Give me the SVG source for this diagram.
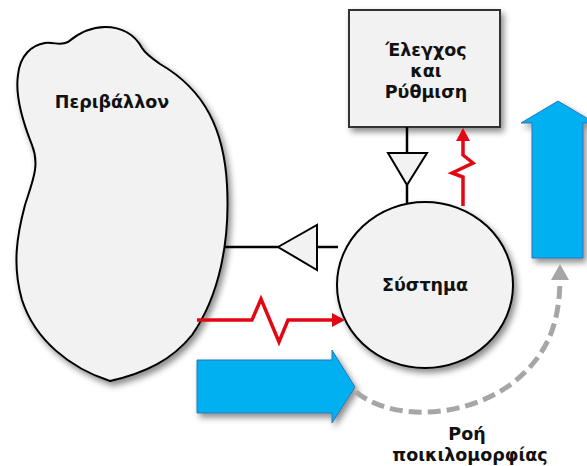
<svg xmlns="http://www.w3.org/2000/svg" width="587" height="466" viewBox="0 0 587 466">
  <defs>
    <filter id="shadow" x="-20%" y="-20%" width="140%" height="140%">
      <feDropShadow dx="3" dy="4" stdDeviation="3" flood-color="#000" flood-opacity="0.45"/>
    </filter>
    <marker id="redHead" markerUnits="userSpaceOnUse" markerWidth="14" markerHeight="14" refX="10" refY="7" orient="auto">
      <path d="M0,0 L13,7 L0,14 Z" fill="#e30613"/>
    </marker>
    <marker id="grayHead" markerUnits="userSpaceOnUse" markerWidth="18" markerHeight="18" refX="4" refY="9" orient="auto">
      <path d="M0,0 L16,9 L0,18 Z" fill="#a6a6a6"/>
    </marker>
  </defs>
  <style>
    .shape { fill: #f2f2f2; stroke: #000; stroke-width: 2; }
    .label { font-family: "DejaVu Sans", Verdana, sans-serif; font-weight: bold; font-size: 17.5px; fill: #111; text-anchor: middle; }
    .wire { fill: none; stroke: #000; stroke-width: 2.5; }
    .tri { fill: #f2f2f2; stroke: #000; stroke-width: 2; stroke-linejoin: miter; }
    .signal { fill: none; stroke: #e30613; stroke-width: 3.5; stroke-linejoin: miter; }
    .flow { fill: #00b0f0; stroke: #2e75b6; stroke-width: 1; }
    .variety { fill: none; stroke: #a6a6a6; stroke-width: 5; stroke-dasharray: 13 6; }
  </style>

  <!-- Environment -->
  <g id="environment">
    <path class="shape" filter="url(#shadow)" d="M110,381 C70,368 35,340 22,300 C12,265 17,235 25,205 C33,180 40,165 32,145 C22,120 15,95 18,75 C20,55 32,45 45,43 C55,42 60,46 68,42 C80,32 92,27 105,27 C122,27 135,35 142,48 C145,53 150,57 160,64 C205,90 224,130 227,185 C230,240 220,295 192,335 C172,360 145,373 110,381 Z"/>
    <text class="label" x="112" y="108">Περιβάλλον</text>
  </g>

  <!-- Control and regulation -->
  <g id="control">
    <rect x="349" y="10" width="151" height="117" fill="#f2f2f2" stroke="#333" stroke-width="2" filter="url(#shadow)"/>
    <text class="label" x="426" y="56">Έλεγχος</text>
    <text class="label" x="426" y="77">και</text>
    <text class="label" x="426" y="98">Ρύθμιση</text>
  </g>

  <!-- System -->
  <g id="system">
    <ellipse class="shape" cx="425" cy="285" rx="88" ry="83" filter="url(#shadow)"/>
    <text class="label" x="425" y="291">Σύστημα</text>
  </g>

  <!-- Variety flow arrows -->
  <g id="flow-in">
    <path class="flow" filter="url(#shadow)" d="M197,360 L332,360 L332,350 L355,387 L332,423 L332,413 L197,413 Z"/>
  </g>
  <g id="flow-out">
    <path class="flow" filter="url(#shadow)" d="M532,258 L532,123 L521,123 L558,101 L595,123 L583,123 L583,258 Z"/>
  </g>

  <!-- Connectors -->
  <g id="connectors">
    <!-- system output to environment -->
    <line class="wire" x1="224" y1="247" x2="278" y2="247"/>
    <line class="wire" x1="317" y1="247" x2="338" y2="247"/>
    <polygon class="tri" points="278,247 317,225 317,270"/>
    <!-- control to system -->
    <line class="wire" x1="407" y1="127" x2="407" y2="153"/>
    <line class="wire" x1="407" y1="185" x2="407" y2="203"/>
    <polygon class="tri" points="388,153 427,153 407,185"/>
    <!-- disturbances -->
    <path class="signal" marker-end="url(#redHead)" d="M197,320 L252,320 L261,299 L279,342 L288,320 L342,320"/>
    <path class="signal" marker-end="url(#redHead)" d="M463,206 L463,177 L452,173 L473,163 L463,155 L463,131"/>
    <!-- variety flow -->
    <path class="variety" marker-end="url(#grayHead)" d="M356,392 C390,420 460,420 510,385 C550,355 560,320 560,276"/>
  </g>

  <!-- Flow caption -->
  <g id="caption">
    <text class="label" x="467" y="440">Ροή</text>
    <text class="label" x="470" y="461">ποικιλομορφίας</text>
  </g>
</svg>
